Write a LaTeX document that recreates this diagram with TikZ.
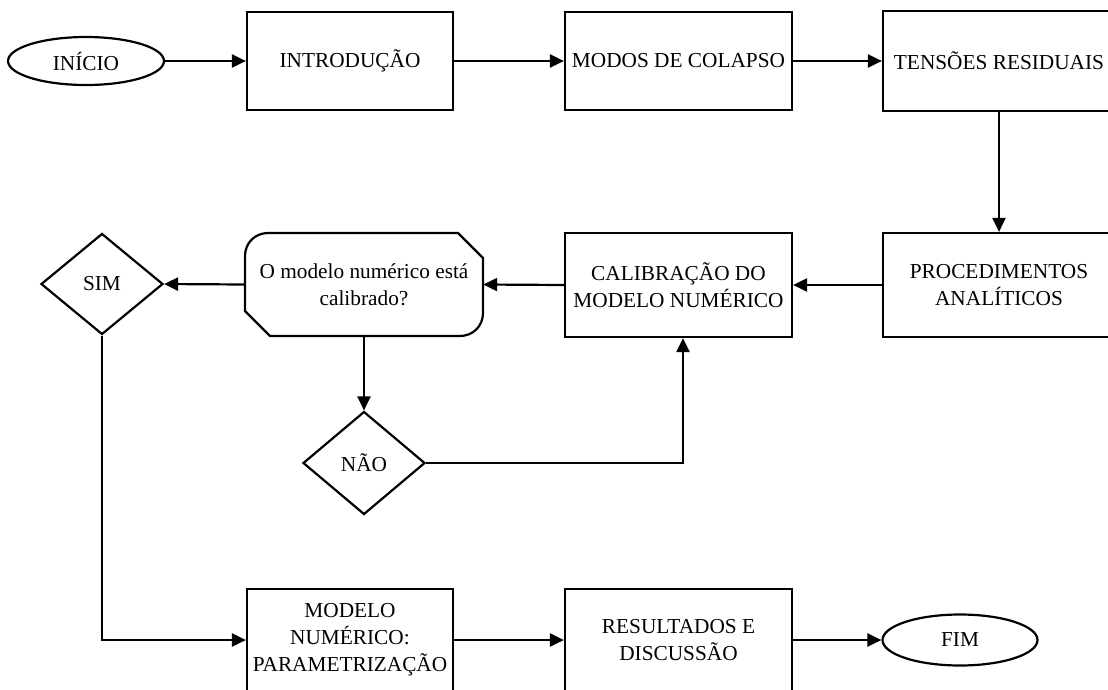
\documentclass[tikz,border=0pt]{standalone}
\usepackage{fontspec}
\setmainfont{Liberation Serif}
\usetikzlibrary{arrows.meta,shapes.geometric}
\begin{document}
\begin{tikzpicture}[x=1pt,y=-1pt,
  every node/.style={font=\fontsize{21.3}{27}\selectfont, inner sep=0pt, align=center},
  box/.style={draw, line width=2.2pt, rectangle},
  oval/.style={draw, line width=2.2pt, ellipse},
  dia/.style={draw, line width=2.2pt, diamond},
  conn/.style={line width=2.2pt, -{Triangle[length=14pt,width=13pt]}},
  plain/.style={line width=2.2pt}]
\useasboundingbox (0,0) rectangle (1108,689);
\clip (0,0) rectangle (1108,689);
% top row
\node[oval, minimum width=156, minimum height=48] (inicio) at (86,61) {INÍCIO};
\node[box, minimum width=206, minimum height=98] (intro) at (350,61) {INTRODUÇÃO};
\node[box, minimum width=227, minimum height=98] (modos) at (678.5,61) {MODOS DE COLAPSO};
\node[box, minimum width=232, minimum height=100] (tensoes) at (999,61) {TENSÕES RESIDUAIS};
% middle row
\node[box, minimum width=232, minimum height=104] (proc) at (999,285) {PROCEDIMENTOS\\ANALÍTICOS};
\node[box, minimum width=227, minimum height=104] (calib) at (678.5,285) {CALIBRAÇÃO DO\\MODELO NUMÉRICO};
\draw[plain] (245,256) .. controls (245,243) and (255,233) .. (268,233) -- (458,233) -- (483,258)
  -- (483,313) .. controls (483,326) and (473,336) .. (460,336) -- (270,336) -- (245,311) -- cycle;
\node[minimum width=238, minimum height=103] (oct) at (364,284.5) {O modelo numérico está\\calibrado?};
\node[dia, minimum width=122, minimum height=101] (sim) at (102,284) {SIM};
\node[dia, minimum width=122, minimum height=103] (nao) at (364,463) {NÃO};
% bottom row
\node[box, minimum width=206, minimum height=102] (modelo) at (350,640) {MODELO\\NUMÉRICO:\\PARAMETRIZAÇÃO};
\node[box, minimum width=227, minimum height=102] (result) at (678.5,640) {RESULTADOS E\\DISCUSSÃO};
\node[oval, minimum width=155, minimum height=51] (fim) at (960,640) {FIM};
% connectors
\draw[conn] (inicio.east) -- (intro.west);
\draw[conn] (intro.east) -- (modos.west);
\draw[conn] (modos.east) -- (tensoes.west);
\draw[conn] (tensoes.south) -- (proc.north);
\draw[conn] (proc.west) -- (calib.east);
\draw[conn] (calib.west) -- (oct.east);
\draw[conn] (oct.west) -- (sim.east);
\draw[conn] (oct.south) -- (nao.north);
\draw[conn] (nao.east) -| ([xshift=4.5pt]calib.south);
\draw[conn] (sim.south) |- (modelo.west);
\draw[conn] (modelo.east) -- (result.west);
\draw[conn] (result.east) -- (fim.west);
\end{tikzpicture}
\end{document}
